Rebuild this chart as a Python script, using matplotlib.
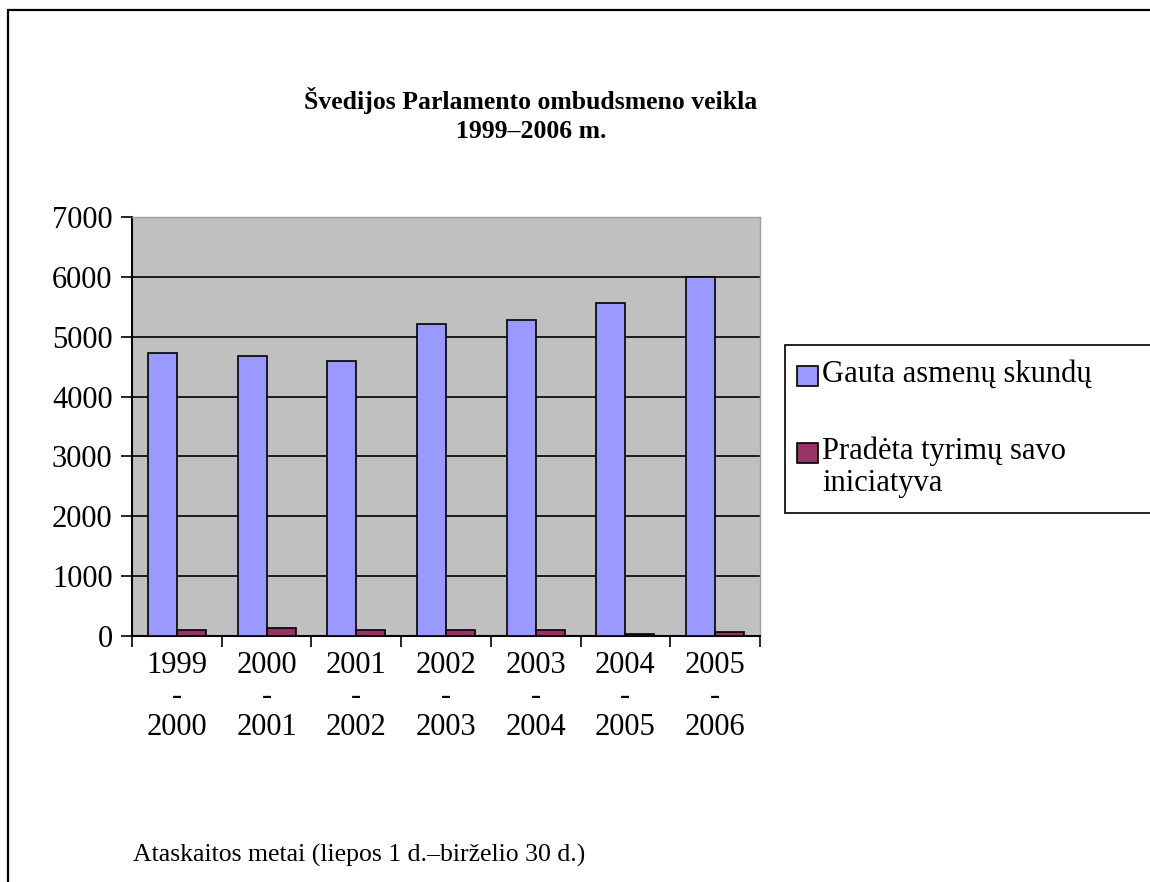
import numpy as np
import matplotlib
matplotlib.use("Agg")
import matplotlib.pyplot as plt
from matplotlib.patches import Rectangle

plt.rcParams['font.family'] = ['Liberation Serif', 'DejaVu Serif']

# data
periods = ["1999\n-\n2000", "2000\n-\n2001", "2001\n-\n2002", "2002\n-\n2003",
           "2003\n-\n2004", "2004\n-\n2005", "2005\n-\n2006"]
complaints = [4730, 4670, 4600, 5220, 5280, 5570, 6000]
own_initiative = [100, 140, 100, 100, 100, 40, 65]
series_names = ["Gauta asmenų skundų", "Pradėta tyrimų savo\niniciatyva"]
colors = ["#9999FF", "#993366"]

W, H = 1150, 882
fig = plt.figure(figsize=(W / 100, H / 100), dpi=100)

# outer chart border (only left and top visible)
fig.patches.append(Rectangle((8 / W, -0.1), 1.2, 1.1 - 10 / H,
                             transform=fig.transFigure, fill=False,
                             edgecolor="black", linewidth=1.6))

ax = fig.add_axes([132 / W, 1 - 636 / H, (760 - 132) / W, (636 - 217) / H])
ax.set_facecolor("#C0C0C0")

x = np.arange(len(periods))
w = 1 / 3.1
ax.bar(x - w / 2, complaints, w, color=colors[0], edgecolor="black",
       linewidth=1.2, zorder=3)
ax.bar(x + w / 2, own_initiative, w, color=colors[1], edgecolor="black",
       linewidth=1.2, zorder=3)

ax.set_xlim(-0.5, len(periods) - 0.5)
ax.set_ylim(0, 7000)
ax.set_yticks(range(0, 7001, 1000))
ax.yaxis.grid(True, color="black", linewidth=1.2, zorder=1)
ax.set_axisbelow(True)

ax.set_xticks(np.arange(len(periods) + 1) - 0.5)
ax.set_xticklabels([])
ax.set_xticks(x, minor=True)
ax.set_xticklabels(periods, minor=True, fontsize=22, linespacing=1.08)
ax.tick_params(axis="x", which="minor", length=0, pad=11)
ax.tick_params(axis="x", which="major", length=8, width=1.2, direction="out")
ax.tick_params(axis="y", length=8, width=1.2, labelsize=22, pad=6)

for s in ["left", "bottom"]:
    ax.spines[s].set_linewidth(1.5)
for s in ["top", "right"]:
    ax.spines[s].set_color("#A0A0A0")
    ax.spines[s].set_linewidth(1.0)

fig.text(531 / W, 1 - 100 / H, "Švedijos Parlamento ombudsmeno veikla",
         ha="center", va="center", fontsize=18.5, fontweight="bold")
fig.text(531 / W, 1 - 131 / H, "1999–2006 m.",
         ha="center", va="center", fontsize=18.5, fontweight="bold")

fig.text(133 / W, 1 - 855 / H, "Ataskaitos metai (liepos 1 d.–birželio 30 d.)",
         ha="left", va="center", fontsize=18.5)

# legend box
fig.patches.append(Rectangle((785 / W, 1 - 513 / H), 0.5, (513 - 345) / H,
                             transform=fig.transFigure, facecolor="white",
                             edgecolor="black", linewidth=1.2))
for name, col, yc in zip(series_names, colors, [376, 453]):
    fig.patches.append(Rectangle((797 / W, 1 - (yc + 10) / H), 21 / W, 20 / H,
                                 transform=fig.transFigure, facecolor=col,
                                 edgecolor="black", linewidth=1.2))
    fig.text(822 / W, 1 - (yc - 16) / H, name, ha="left", va="top",
             fontsize=22, linespacing=1.12)

fig.savefig("out.png", dpi=100)
